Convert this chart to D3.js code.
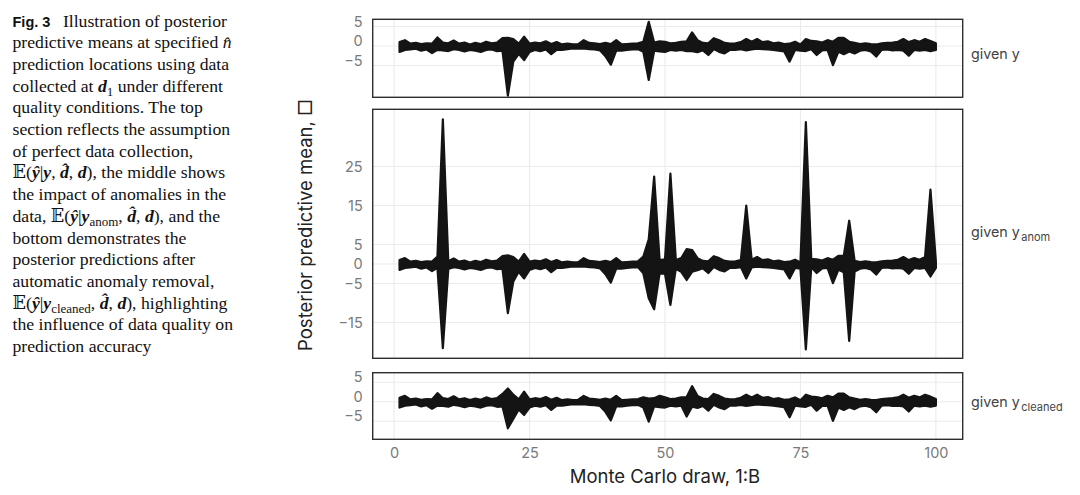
<!DOCTYPE html>
<html>
<head>
<meta charset="utf-8" />
<title>Fig. 3</title>
<script src="https://cdn.jsdelivr.net/npm/d3@7/dist/d3.min.js"></script>
<style>
  body { margin: 0; background: #fff; }
  .cap { font-family: "Liberation Serif", "DejaVu Serif", serif; font-size: 17.7px; fill: #111; }
  .chart text { font-family: Inter, Roboto, sans-serif; }
</style>
</head>
<body>
<svg width="1080" height="495"></svg>
<script>
// draws on the x axis
const draws = d3.range(1, 101);
const xTicks = [0, 25, 50, 75, 100];
const yTicks = [-15, -5, 0, 5, 15, 25];

// envelope of the predictive means, "given y"
const topUpper = [1.0,1.5,0.6,0.8,0.5,0.7,0.6,2.2,0.9,0.7, 1.4,0.6,0.9,0.4,0.8,0.5,1.1,0.7,0.9,2.0,
  2.1,1.8,0.6,2.4,0.6,0.9,0.7,1.2,0.5,1.0, 0.4,0.6,0.4,0.5,1.5,0.8,0.7,0.5,0.8,0.5,
  1.5,0.4,0.5,0.6,0.7,1.1,6.2,0.9,1.2,1.1, 0.7,0.8,1.1,1.2,3.5,1.5,0.8,0.7,2.0,1.5,
  0.8,0.6,0.7,1.0,1.8,1.1,1.8,1.0,1.2,0.7, 0.9,0.5,0.6,1.1,0.4,1.8,1.3,1.2,0.9,1.5,
  1.1,2.1,2.1,1.1,0.8,0.5,0.7,0.5,0.4,0.7, 0.8,0.9,1.1,1.8,1.0,1.5,1.1,1.8,1.3,0.7];
const topLower = [-1.5,-1.0,-0.9,-0.7,-1.2,-0.9,-1.8,-1.0,-1.1,-1.3, -0.8,-1.0,-1.4,-1.0,-1.2,-1.5,-1.0,-0.9,-1.3,-1.2,
  -12.7,-4.0,-2.0,-3.6,-1.5,-1.0,-1.3,-0.9,-2.1,-1.0, -1.0,-0.8,-0.6,-0.7,-0.6,-0.8,-0.9,-1.1,-2.6,-4.8,
  -1.2,-1.2,-1.0,-0.9,-0.8,-1.5,-8.7,-1.2,-1.4,-1.5, -1.0,-1.2,-1.0,-1.3,-1.3,-1.6,-1.1,-2.3,-0.8,-1.5,
  -1.9,-1.0,-1.0,-0.8,-1.1,-0.9,-0.7,-0.8,-0.9,-1.0, -1.2,-1.4,-4.0,-1.0,-1.2,-1.3,-0.8,-2.3,-1.1,-1.0,
  -4.9,-1.5,-2.1,-1.4,-1.9,-1.2,-1.0,-1.4,-2.7,-1.0, -0.9,-1.1,-1.0,-1.2,-2.5,-1.0,-1.2,-1.0,-1.3,-1.0];

// "given y anom"
const midUpper = [1.0,1.5,0.6,0.8,0.5,0.7,0.6,1.9,37.1,0.7, 1.4,0.6,0.9,0.4,0.8,0.5,1.1,0.7,0.9,2.0,
  2.2,1.8,0.6,2.6,0.6,0.9,0.7,1.2,0.5,1.0, 0.4,0.6,0.4,0.5,1.5,0.8,0.7,0.5,0.8,0.5,
  1.5,0.4,0.5,0.6,0.7,1.9,6.3,22.4,1.0,1.2, 23.2,1.0,1.5,3.8,3.6,1.5,0.8,0.7,2.0,1.5,
  0.8,0.6,0.7,1.0,15.0,1.1,1.8,1.0,1.2,0.7, 0.9,0.5,0.6,1.1,0.4,36.4,1.3,1.2,0.9,1.5,
  1.1,2.1,2.1,11.1,0.8,0.5,0.7,0.5,0.4,0.7, 0.8,0.9,1.1,1.8,1.0,1.5,1.1,1.8,19.1,0.7];
const midLower = [-1.5,-1.0,-0.9,-0.7,-1.2,-0.9,-1.8,-1.0,-21.6,-1.3, -0.8,-1.0,-1.4,-1.0,-1.2,-1.5,-1.0,-0.9,-1.3,-1.2,
  -12.6,-4.5,-2.0,-3.7,-1.5,-1.0,-1.3,-0.9,-2.1,-1.0, -1.0,-0.8,-0.6,-0.7,-0.6,-0.8,-0.9,-1.1,-2.6,-4.8,
  -1.2,-1.2,-1.0,-0.9,-0.8,-2.4,-8.8,-11.6,-2.4,-2.5, -10.5,-1.2,-2.0,-4.1,-2.0,-1.6,-1.1,-2.3,-0.8,-1.5,
  -1.9,-1.0,-1.0,-0.8,-3.7,-0.9,-0.7,-0.8,-0.9,-1.0, -1.2,-1.4,-3.7,-1.0,-1.2,-21.9,-0.8,-2.3,-1.1,-1.0,
  -4.9,-1.5,-2.1,-19.7,-1.9,-1.2,-1.0,-1.4,-2.7,-1.0, -0.9,-1.1,-1.0,-1.2,-2.5,-1.0,-1.2,-1.0,-3.2,-1.0];

// "given y cleaned"
const cleanUpper = [1.0,1.5,0.6,0.8,0.5,0.7,0.6,2.2,0.9,0.7, 1.4,0.6,0.9,0.4,0.8,0.5,1.1,0.7,0.9,2.0,
  3.4,1.8,0.6,2.6,0.6,0.9,0.7,1.2,0.5,1.0, 0.4,0.6,0.4,0.5,1.5,0.8,0.7,0.5,0.8,0.5,
  1.5,0.4,0.5,0.6,0.7,1.1,0.8,0.9,1.5,1.1, 0.7,0.8,1.1,1.2,4.0,1.5,0.8,0.7,2.0,1.5,
  0.8,0.6,0.7,1.0,1.8,1.1,1.8,1.0,1.2,0.7, 0.9,0.5,0.6,1.1,0.4,1.8,1.3,1.2,0.9,1.5,
  1.1,2.1,2.1,1.1,0.8,0.5,0.7,0.5,0.4,0.7, 0.8,0.9,1.1,1.8,1.0,1.5,1.1,1.8,1.3,0.7];
const cleanLower = [-1.5,-1.0,-0.9,-0.7,-1.2,-0.9,-1.8,-1.0,-1.1,-1.3, -0.8,-1.0,-1.4,-1.0,-1.2,-1.5,-1.0,-0.9,-1.3,-1.2,
  -6.8,-4.4,-2.0,-3.4,-1.5,-1.0,-1.3,-0.9,-2.1,-1.0, -1.0,-0.8,-0.6,-0.7,-0.6,-0.8,-0.9,-1.1,-2.6,-4.8,
  -1.2,-1.2,-1.0,-0.9,-0.8,-1.5,-5.1,-1.2,-1.4,-1.5, -1.0,-1.2,-1.0,-3.8,-1.3,-1.6,-1.1,-2.3,-0.8,-1.5,
  -1.9,-1.0,-1.0,-0.8,-1.1,-0.9,-0.7,-0.8,-0.9,-1.0, -1.2,-1.4,-4.0,-1.0,-1.2,-1.3,-0.8,-2.3,-1.1,-1.0,
  -4.9,-1.5,-2.1,-1.4,-1.9,-1.2,-1.0,-1.4,-2.7,-1.0, -0.9,-1.1,-1.0,-1.2,-2.5,-1.0,-1.2,-1.0,-1.3,-1.0];

const stripLabels = [["given y", ""], ["given y", "anom"], ["given y", "cleaned"]];

// caption: [text, style] pieces per line
const captionLines = [
  [["Fig. 3", "fig"], ["Illustration of posterior", "gap"]],
  [["predictive means at specified ", ""], ["n\u0302", "i"]],
  [["prediction locations using data", ""]],
  [["collected at ", ""], ["d", "bi"], ["1", "sub"], [" under different", "up"]],
  [["quality conditions. The top", ""]],
  [["section reflects the assumption", ""]],
  [["of perfect data collection,", ""]],
  [["\u{1D53C}(", ""], ["\u0177", "bi"], ["|", ""], ["y", "bi"], [", ", ""], ["d\u0302", "bi"], [", ", ""], ["d", "bi"], ["), the middle shows", ""]],
  [["the impact of anomalies in the", ""]],
  [["data, \u{1D53C}(", ""], ["\u0177", "bi"], ["|", ""], ["y", "bi"], ["anom", "sub"], [", ", "up"], ["d\u0302", "bi"], [", ", ""], ["d", "bi"], ["), and the", ""]],
  [["bottom demonstrates the", ""]],
  [["posterior predictions after", ""]],
  [["automatic anomaly removal,", ""]],
  [["\u{1D53C}(", ""], ["\u0177", "bi"], ["|", ""], ["y", "bi"], ["cleaned", "sub"], [", ", "up"], ["d\u0302", "bi"], [", ", ""], ["d", "bi"], ["), highlighting", ""]],
  [["the influence of data quality on", ""]],
  [["prediction accuracy", ""]]
];

const svg = d3.select("svg");

// ---- caption ----
const cap = svg.append("text").attr("class", "cap");
captionLines.forEach((line, li) => {
  line.forEach((seg, si) => {
    const t = cap.append("tspan").text(seg[0]);
    if (si === 0) t.attr("x", 12.5).attr("y", 26.5 + li * 21.7);
    const s = seg[1];
    if (s === "fig") t.style("font-family", "'Liberation Sans', Arial, sans-serif").style("font-weight", "bold").style("font-size", "14.5px");
    if (s === "gap") t.attr("dx", 12.5);
    if (s === "i") t.style("font-style", "italic");
    if (s === "bi") t.style("font-style", "italic").style("font-weight", "bold");
    if (s === "sub") t.attr("dy", 4).style("font-size", "13px");
    if (s === "up") t.attr("dy", -4);
  });
});

// ---- chart ----
const chart = svg.append("g").attr("class", "chart");
const x = d3.scaleLinear().domain([-3.95, 104.95]).range([372.7, 962.7]);

const panels = [
  { upper: topUpper, lower: topLower, top: 19.3, bottom: 97.3, domain: [-13.15, 6.85], shift: -5 },
  { upper: midUpper, lower: midLower, top: 109.3, bottom: 358.3, domain: [-24.18, 39.67], shift: 0 },
  { upper: cleanUpper, lower: cleanLower, top: 372.7, bottom: 439.3, domain: [-9.64, 7.44], shift: -5 }
];

panels.forEach((p, pi) => {
  const y = d3.scaleLinear().domain(p.domain).range([p.bottom, p.top]);
  const g = chart.append("g");
  const ticks = yTicks.filter(t => t >= p.domain[0] && t <= p.domain[1]);

  // grid
  g.selectAll(".vg").data(xTicks).enter().append("line")
    .attr("x1", d => x(d)).attr("x2", d => x(d))
    .attr("y1", p.top).attr("y2", p.bottom)
    .attr("stroke", "#ebebeb").attr("stroke-width", 1.1);
  g.selectAll(".hg").data(ticks).enter().append("line")
    .attr("x1", x.range()[0]).attr("x2", x.range()[1])
    .attr("y1", d => y(d)).attr("y2", d => y(d))
    .attr("stroke", "#ebebeb").attr("stroke-width", 1.1);

  // band of predictive means
  const area = d3.area()
    .x((d, i) => x(draws[i]))
    .y0((d, i) => y(p.lower[i]))
    .y1((d, i) => y(p.upper[i]));
  g.append("path").datum(draws)
    .attr("d", area)
    .attr("fill", "#141414")
    .attr("stroke", "#141414")
    .attr("stroke-width", 2.2)
    .attr("stroke-linejoin", "round");

  // border
  g.append("rect")
    .attr("x", x.range()[0]).attr("y", p.top)
    .attr("width", x.range()[1] - x.range()[0]).attr("height", p.bottom - p.top)
    .attr("fill", "none").attr("stroke", "#2e2e2e").attr("stroke-width", 1.4);

  // y axis labels
  const ya = g.append("g")
    .attr("transform", `translate(${x.range()[0]},${p.shift})`)
    .call(d3.axisLeft(y).tickValues(ticks).tickSize(0).tickPadding(10));
  ya.select(".domain").remove();
  ya.selectAll("text").style("font-size", "14.5px").attr("fill", "#7a7a7a");

  // strip label
  const sl = g.append("text")
    .attr("x", 971).attr("y", (p.top + p.bottom) / 2 + 5 + (pi === 1 ? -1.5 : p.shift + 0.5))
    .attr("fill", "#444").style("font-size", "14.3px")
    .text(stripLabels[pi][0]);
  if (stripLabels[pi][1]) {
    sl.append("tspan").attr("dx", 1.5).attr("dy", 4).style("font-size", "11px").text(stripLabels[pi][1]);
  }
});

// x axis
const xa = chart.append("g")
  .attr("transform", "translate(0,439.3)")
  .call(d3.axisBottom(x).tickValues(xTicks).tickSize(0).tickPadding(8));
xa.select(".domain").remove();
xa.selectAll("text").style("font-size", "14.5px").attr("fill", "#7a7a7a");

chart.append("text")
  .attr("x", x(50)).attr("y", 483)
  .attr("text-anchor", "middle")
  .attr("fill", "#222").style("font-size", "18.5px")
  .text("Monte Carlo draw, 1:B");

chart.append("text")
  .attr("transform", "translate(312,225) rotate(-90)")
  .attr("text-anchor", "middle")
  .attr("fill", "#222").style("font-size", "18.5px")
  .text("Posterior predictive mean, \u25A1");
</script>
</body>
</html>
